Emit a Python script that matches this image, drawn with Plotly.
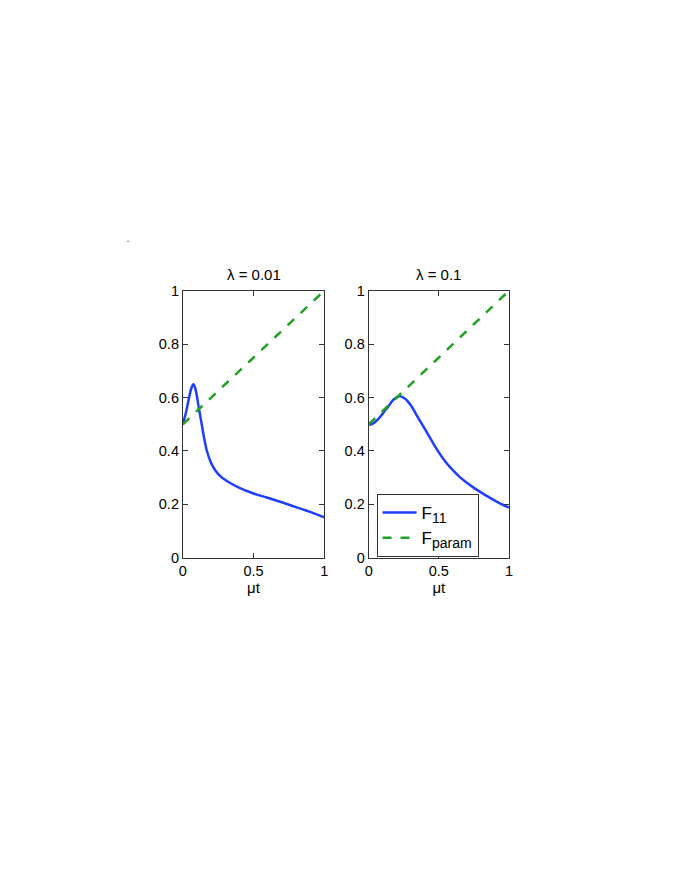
import plotly.graph_objects as go

# Data
titles = ["λ = 0.01", "λ = 0.1"]
left_x = [0, 0.02, 0.04, 0.06, 0.075, 0.09, 0.11, 0.13, 0.15, 0.17, 0.2, 0.23, 0.27, 0.32, 0.4, 0.5, 0.6, 0.7, 0.8, 0.9, 1.0]
left_f11 = [0.5, 0.54, 0.59, 0.635, 0.65, 0.63, 0.57, 0.51, 0.45, 0.40, 0.355, 0.327, 0.303, 0.285, 0.262, 0.241, 0.225, 0.208, 0.19, 0.172, 0.152]
right_x = [0, 0.02, 0.06, 0.1, 0.14, 0.18, 0.22, 0.26, 0.3, 0.35, 0.4, 0.45, 0.5, 0.55, 0.6, 0.65, 0.7, 0.75, 0.8, 0.85, 0.9, 0.95, 1.0]
right_f11 = [0.5, 0.5, 0.515, 0.54, 0.567, 0.594, 0.605, 0.596, 0.571, 0.527, 0.483, 0.438, 0.395, 0.358, 0.328, 0.302, 0.281, 0.262, 0.245, 0.229, 0.214, 0.2, 0.188]
param_x = [0, 1]
param_y = [0.5, 1]
legend_names = ["F<sub><span style='font-size:14px'>11</span></sub>",
                "F<sub><span style='font-size:14px'>param</span></sub>"]

blue = "#1f3fff"
green = "#22a022"
font = "Liberation Sans, Arial, sans-serif"

fig = go.Figure()

panels = [(left_x, left_f11, "x", "y"), (right_x, right_f11, "x2", "y2")]
for i, (xs, ys, xa, ya) in enumerate(panels):
    fig.add_trace(go.Scatter(x=xs, y=ys, mode="lines", line=dict(color=blue, width=2.5, shape="spline"),
                             name=legend_names[0], showlegend=(i == 1), xaxis=xa, yaxis=ya))
    fig.add_trace(go.Scatter(x=param_x, y=param_y, mode="lines", line=dict(color=green, width=2.5, dash="dash"),
                             name=legend_names[1], showlegend=(i == 1), xaxis=xa, yaxis=ya))

ydom = [1 - 560 / 880, 1 - 288 / 880]
axcommon = dict(showgrid=False, zeroline=False, showline=True, linecolor="#333", linewidth=1,
                mirror="ticks", ticks="inside", ticklen=5, tickcolor="#333",
                tickfont=dict(family=font, size=14.5, color="black"))
fig.update_layout(
    width=680, height=880, margin=dict(l=0, r=0, t=0, b=0),
    plot_bgcolor="white", paper_bgcolor="white",
    font=dict(family=font, size=15, color="black"),
    xaxis=dict(domain=[181 / 680, 324 / 680], range=[0, 1], tickvals=[0, 0.5, 1], ticktext=["0", "0.5", "1"],
               title=dict(text="μt", standoff=0, font=dict(size=15)), anchor="y", **axcommon),
    yaxis=dict(domain=ydom, range=[0, 1], tickvals=[0, 0.2, 0.4, 0.6, 0.8, 1],
               ticktext=["0", "0.2", "0.4", "0.6", "0.8", "1"], anchor="x", **axcommon),
    xaxis2=dict(domain=[369 / 680, 511 / 680], range=[0, 1], tickvals=[0, 0.5, 1], ticktext=["0", "0.5", "1"],
                title=dict(text="μt", standoff=0, font=dict(size=15)), anchor="y2", **axcommon),
    yaxis2=dict(domain=ydom, range=[0, 1], tickvals=[0, 0.2, 0.4, 0.6, 0.8, 1],
                ticktext=["0", "0.2", "0.4", "0.6", "0.8", "1"], anchor="x2", **axcommon),
    legend=dict(x=377 / 680, y=1 - 495 / 880, xanchor="left", yanchor="top", bgcolor="white",
                bordercolor="#333", borderwidth=1, font=dict(family=font, size=17),
                itemwidth=34, tracegroupgap=0),
    annotations=[
        dict(text=titles[0], x=(181 + 324) / 2 / 680, y=1 - 271 / 880, xref="paper", yref="paper",
             showarrow=False, font=dict(family=font, size=15), xanchor="center", yanchor="middle"),
        dict(text=titles[1], x=(369 + 511) / 2 / 680, y=1 - 271 / 880, xref="paper", yref="paper",
             showarrow=False, font=dict(family=font, size=15), xanchor="center", yanchor="middle"),
    ],
    shapes=[dict(type="rect", xref="paper", yref="paper", x0=125 / 680, x1=126 / 680,
                 y0=1 - 238 / 880, y1=1 - 237 / 880, fillcolor="black", line=dict(width=0))],
)

fig.write_html("out.html", config={"displayModeBar": False},
               post_script="document.body.style.margin='0';document.body.style.overflow='hidden';")
